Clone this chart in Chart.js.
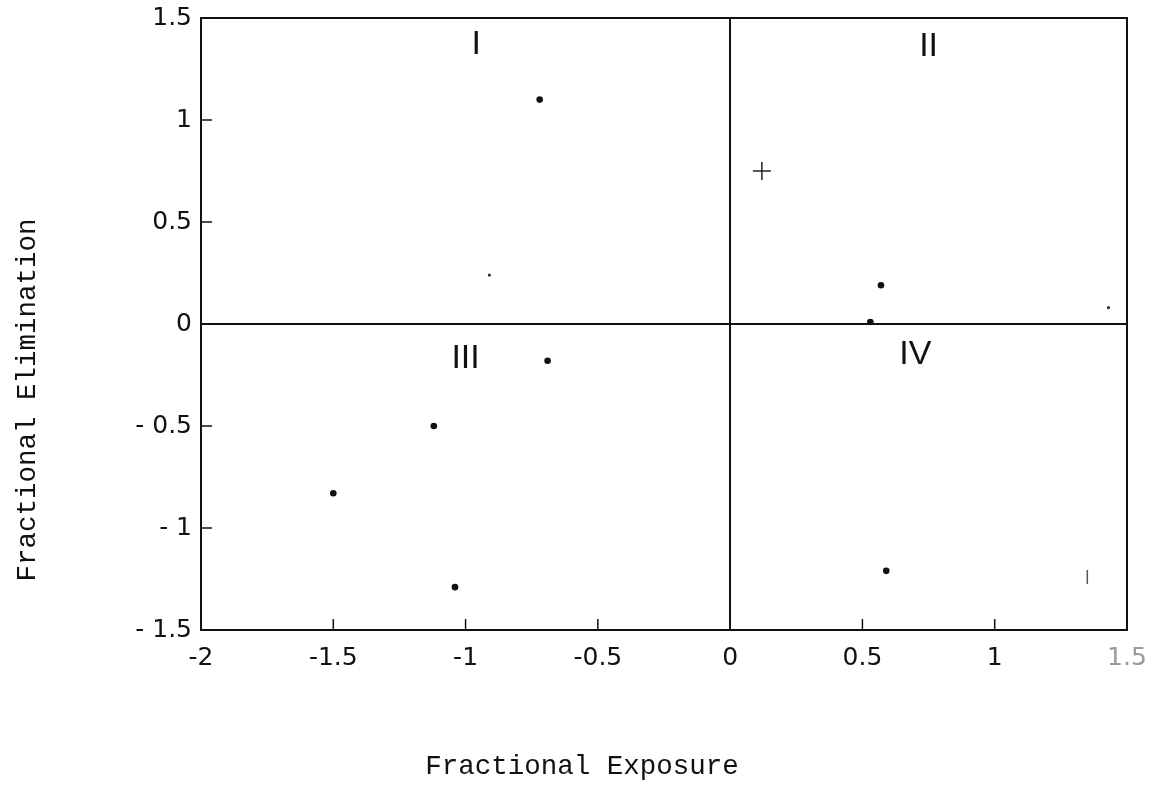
<!DOCTYPE html>
<html>
<head>
<meta charset="utf-8">
<script src="https://cdn.jsdelivr.net/npm/chart.js@4.4.1/dist/chart.umd.min.js"></script>
<style>
  html, body { margin: 0; padding: 0; background: #fff; }
  #wrap { width: 1153px; height: 807px; }
</style>
</head>
<body>
<div id="wrap"><canvas id="quadrantChart"></canvas></div>
<script>
// points
const dotX = [-0.72, -1.12, -1.50, -1.04, -0.69, 0.57, 0.53, 0.59];
const dotY = [1.10, -0.50, -0.83, -1.29, -0.18, 0.19, 0.01, -1.21];
const smallDotX = [-0.91, 1.43];
const smallDotY = [0.24, 0.08];
const plusX = [0.12];
const plusY = [0.75];
const markX = [1.35];
const markY = [-1.24];

const xTickValues = [-2, -1.5, -1, -0.5, 0, 0.5, 1, 1.5];
const xTickLabels = ['-2', '-1.5', '-1', '-0.5', '0', '0.5', '1', '1.5'];
const yTickValues = [-1.5, -1, -0.5, 0, 0.5, 1, 1.5];
const yTickLabels = ['- 1.5', '- 1', '- 0.5', '0', '0.5', '1', '1.5'];

const quadLabels = ['I', 'II', 'III', 'IV'];
const quadX = [-0.96, 0.75, -1.0, 0.70];
const quadY = [1.37, 1.36, -0.17, -0.15];

const ink = '#111';
const tickFont = { family: 'DejaVu Sans', size: 25 };

// frame, inward ticks, quadrant numerals and axis titles
const framePlugin = {
  id: 'frame',
  afterDraw(chart) {
    const { ctx, chartArea: a, scales: { x, y } } = chart;
    ctx.save();
    ctx.strokeStyle = ink;
    ctx.lineWidth = 2;
    ctx.strokeRect(a.left, a.top, a.right - a.left, a.bottom - a.top);

    ctx.lineWidth = 1.5;
    ctx.beginPath();
    xTickValues.forEach(v => {
      if (v <= x.min || v >= x.max || v === 0) return;
      const px = x.getPixelForValue(v);
      ctx.moveTo(px, a.bottom);
      ctx.lineTo(px, a.bottom - 11);
    });
    yTickValues.forEach(v => {
      if (v <= y.min || v >= y.max || v === 0) return;
      const py = y.getPixelForValue(v);
      ctx.moveTo(a.left, py);
      ctx.lineTo(a.left + 11, py);
    });
    ctx.stroke();

    ctx.fillStyle = ink;
    ctx.textAlign = 'center';
    ctx.textBaseline = 'middle';
    ctx.font = '34px "Liberation Sans"';
    quadLabels.forEach((t, i) => {
      ctx.fillText(t, x.getPixelForValue(quadX[i]), y.getPixelForValue(quadY[i]));
    });

    ctx.font = '27.5px "Liberation Mono"';
    ctx.fillText('Fractional Exposure', (a.left + a.right) / 2 - 82, 767);
    ctx.translate(28, (a.top + a.bottom) / 2 + 76);
    ctx.rotate(-Math.PI / 2);
    ctx.fillText('Fractional Elimination', 0, 0);
    ctx.restore();
  }
};

const toPoints = (xs, ys) => xs.map((v, i) => ({ x: v, y: ys[i] }));
const zeroLine = c => (c.tick && c.tick.value === 0 ? ink : 'rgba(0,0,0,0)');

new Chart(document.getElementById('quadrantChart'), {
  type: 'scatter',
  data: {
    datasets: [
      {
        label: 'points',
        data: toPoints(dotX, dotY),
        pointRadius: 3.3,
        backgroundColor: ink,
        borderWidth: 0
      },
      {
        label: 'small points',
        data: toPoints(smallDotX, smallDotY),
        pointRadius: 1.6,
        backgroundColor: '#333',
        borderWidth: 0
      },
      {
        label: 'plus',
        data: toPoints(plusX, plusY),
        pointStyle: 'cross',
        pointRadius: 9,
        borderWidth: 1.5,
        borderColor: '#222'
      },
      {
        label: 'mark',
        data: toPoints(markX, markY),
        pointStyle: 'line',
        rotation: 90,
        pointRadius: 7,
        borderWidth: 1.5,
        borderColor: '#555'
      }
    ]
  },
  options: {
    responsive: true,
    maintainAspectRatio: false,
    animation: false,
    layout: { padding: { top: 18, right: 26, left: 0, bottom: 0 } },
    plugins: {
      legend: { display: false },
      tooltip: { enabled: false }
    },
    scales: {
      x: {
        type: 'linear',
        min: -2,
        max: 1.5,
        afterBuildTicks: s => { s.ticks = xTickValues.map(v => ({ value: v })); },
        afterFit: s => { s.height = 177; s.paddingLeft = 0; s.paddingRight = 0; },
        border: { display: false },
        grid: { drawTicks: false, lineWidth: 2, color: zeroLine },
        ticks: {
          padding: 13,
          autoSkip: false,
          maxRotation: 0,
          font: tickFont,
          color: c => (c.index === xTickLabels.length - 1 ? '#9a9a9a' : ink),
          callback: (v, i) => xTickLabels[i]
        }
      },
      y: {
        type: 'linear',
        min: -1.5,
        max: 1.5,
        afterBuildTicks: s => { s.ticks = yTickValues.map(v => ({ value: v })); },
        afterFit: s => { s.width = 201; s.paddingTop = 0; s.paddingBottom = 0; },
        border: { display: false },
        grid: { drawTicks: false, lineWidth: 2, color: zeroLine },
        ticks: {
          padding: 9,
          autoSkip: false,
          font: tickFont,
          color: ink,
          callback: (v, i) => yTickLabels[i]
        }
      }
    }
  },
  plugins: [framePlugin]
});
</script>
</body>
</html>
